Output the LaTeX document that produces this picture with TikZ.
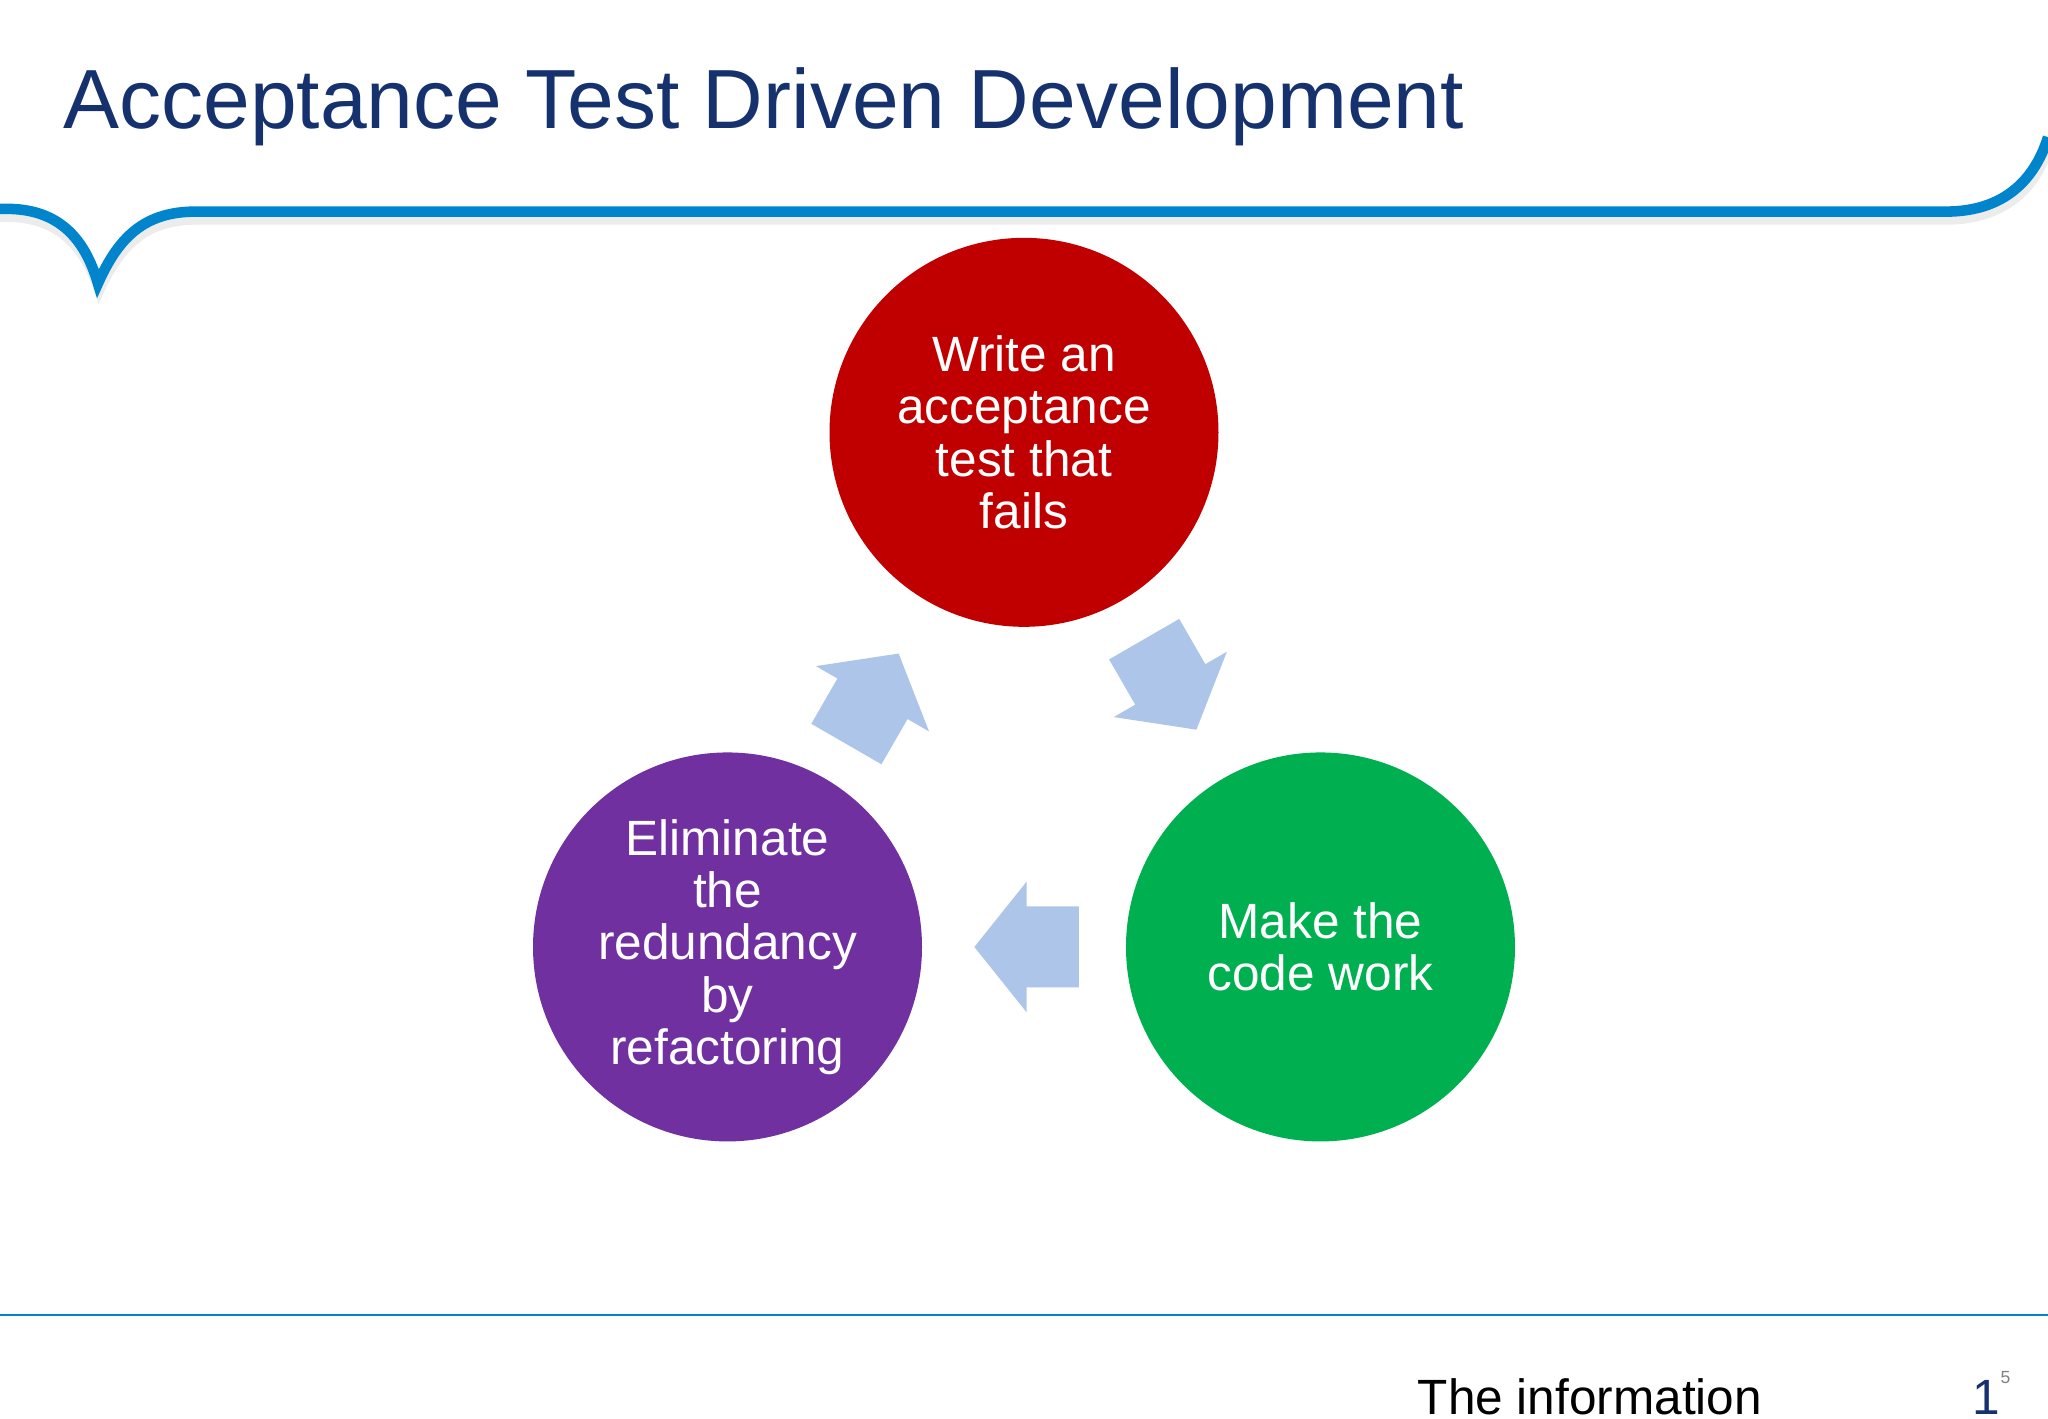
\documentclass[tikz,border=0pt]{standalone}
\usepackage{fontspec}
\setmainfont{Liberation Sans}
\definecolor{navy}{RGB}{22,50,110}
\definecolor{hblue}{RGB}{0,132,204}
\definecolor{cred}{RGB}{192,0,0}
\definecolor{cpurple}{RGB}{112,48,160}
\definecolor{cgreen}{RGB}{0,176,80}
\definecolor{arr}{RGB}{172,197,232}
\begin{document}
\begin{tikzpicture}[x=0.01306cm,y=-0.01306cm,
  circ/.style={circle,minimum size=3.89cm,inner sep=0pt,text=white,align=center,font=\fontsize{14.1}{14.9}\selectfont},
  blk/.style={fill=arr,draw=none}]
\useasboundingbox[fill=white] (0,0) rectangle (1568,1086);
\node[anchor=base west,text=navy,font=\fontsize{23.9}{28}\selectfont,inner sep=0] (title) at (48,98) {Acceptance Test Driven Development};
% header curve shadow
\draw[line width=3pt,gray!15,line cap=round] (0,166) .. controls (45,164) and (65,189) .. (76,222) .. controls (92,187) and (112,168) .. (150,168) -- (1490,168) .. controls (1540,168) and (1562,137) .. (1568,111);
\draw[line width=3pt,hblue] (0,160) .. controls (45,158) and (65,183) .. (75,217) .. controls (91,181) and (111,162) .. (150,162) -- (1490,162) .. controls (1540,162) and (1560,131) .. (1568,105);
\node[circ,fill=cred] (a) at (784,331) {Write an\\acceptance\\test that\\fails};
\node[circ,fill=cgreen] (b) at (1011,725) {Make the\\code work};
\node[circ,fill=cpurple] (c) at (557,725) {Eliminate\\the\\redundancy\\by\\refactoring};
\foreach \cx/\cy/\r [count=\i] in {896/524/-60, 786/725/180, 668/535/60}{
 \begin{scope}[shift={(\cx,\cy)},rotate=\r]
 \fill[arr] (-40,-31) -- (0,-31) -- (0,-50) -- (40,0) -- (0,50) -- (0,31) -- (-40,31) -- cycle;
 \end{scope}}
\draw[hblue,line width=0.6pt] (0,1007) coordinate (l1) -- (1568,1007) coordinate (l2);
\node[anchor=base west,inner sep=0,font=\fontsize{14.1}{17}\selectfont] (info) at (1085,1083) {The information};
\node[anchor=base west,inner sep=0,text=navy,font=\fontsize{14.1}{17}\selectfont] (pg) at (1510,1083) {1\raisebox{1.2ex}{\fontsize{5}{6}\selectfont\textcolor{gray}{5}}};
\end{tikzpicture}
\end{document}
